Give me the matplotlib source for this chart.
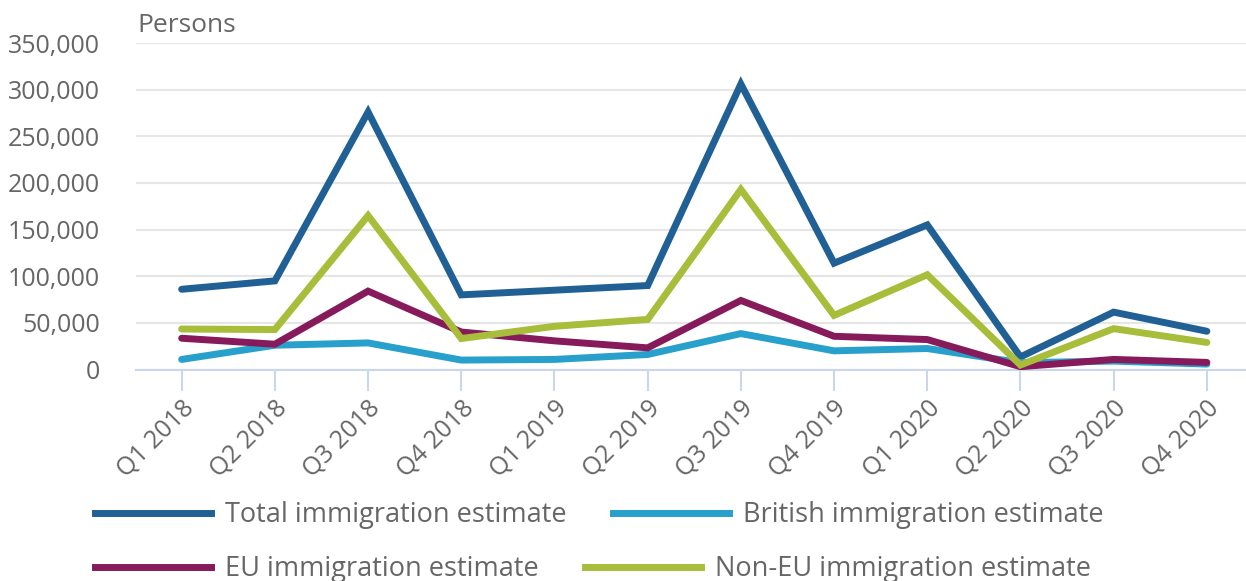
import matplotlib
matplotlib.use("Agg")
import matplotlib.pyplot as plt
from matplotlib.lines import Line2D
from matplotlib.ticker import FuncFormatter

# ------------------------------
# Data
# ------------------------------
quarters = ["Q1 2018", "Q2 2018", "Q3 2018", "Q4 2018",
            "Q1 2019", "Q2 2019", "Q3 2019", "Q4 2019",
            "Q1 2020", "Q2 2020", "Q3 2020", "Q4 2020"]

total = [86000, 95000, 276000, 80000, 85000, 90000, 306000, 114000, 155000, 13500, 61500, 41000]
british = [10800, 26000, 28500, 10100, 10800, 16100, 38500, 20000, 22500, 7300, 9000, 5800]
eu = [33500, 27100, 84000, 40200, 30700, 23200, 74000, 35600, 32100, 3000, 10800, 7600]
non_eu = [43400, 42800, 165000, 33200, 46300, 53700, 193000, 58000, 101600, 4800, 43800, 29000]

series_names = ["Total immigration estimate", "British immigration estimate",
                "EU immigration estimate", "Non-EU immigration estimate"]
colors = ["#206095", "#27a0cc", "#871a5b", "#a8bd3a"]

# ------------------------------
# Figure
# ------------------------------
plt.rcParams['font.family'] = ['Open Sans', 'DejaVu Sans']
grey = "#666666"

fig = plt.figure(figsize=(12.46, 5.81), dpi=100)
ax = fig.add_axes([136 / 1246, 1 - 369.5 / 581, 1 - 136 / 1246, (369.5 - 43) / 581])

x = list(range(len(quarters)))
# draw order as in the reference: total, british, eu, non-eu
for vals, c in zip([total, british, eu, non_eu], colors):
    ax.plot(x, vals, color=c, lw=5, solid_capstyle='round', solid_joinstyle='miter', zorder=3)
ax.set_xlim(-0.49, 11.42)
ax.set_ylim(0, 350000)
ax.set_yticks(range(0, 350001, 50000))
ax.yaxis.set_major_formatter(FuncFormatter(lambda v, p: f"{int(v):,}"))
ax.grid(axis='y', color="#e6e6e6", lw=1.5, zorder=0)
ax.set_axisbelow(True)

for s in ["top", "right", "left"]:
    ax.spines[s].set_visible(False)
ax.spines["bottom"].set_color("#ccd6eb")
ax.spines["bottom"].set_linewidth(1.5)
ax.spines["bottom"].set_zorder(1)

ax.set_xticks(x)
ax.set_xticklabels(quarters, rotation=45, ha='right', rotation_mode='anchor')
ax.tick_params(axis='x', length=15, width=1.5, color="#ccd6eb", labelsize=18, labelcolor=grey, pad=4)
ax.tick_params(axis='y', length=0, labelsize=18, labelcolor=grey, pad=26)

fig.text(137 / 1246, 1 - 25 / 581, "Persons", fontsize=19, color=grey, ha='left', va='center')

# ------------------------------
# Legend (two rows)
# ------------------------------
handles = [Line2D([], [], color=c, lw=5) for c in colors]
for row, yy in enumerate([1 - 515 / 581, 1 - 569 / 581]):
    leg = fig.legend(handles[2 * row:2 * row + 2], series_names[2 * row:2 * row + 2],
                     loc='center left', bbox_to_anchor=(95 / 1246, yy), ncol=2,
                     frameon=False, fontsize=19.5, labelcolor=grey, borderpad=0,
                     borderaxespad=0, handlelength=4.28, handletextpad=0.52,
                     columnspacing=1.7)

fig.savefig("out.png", dpi=100)
